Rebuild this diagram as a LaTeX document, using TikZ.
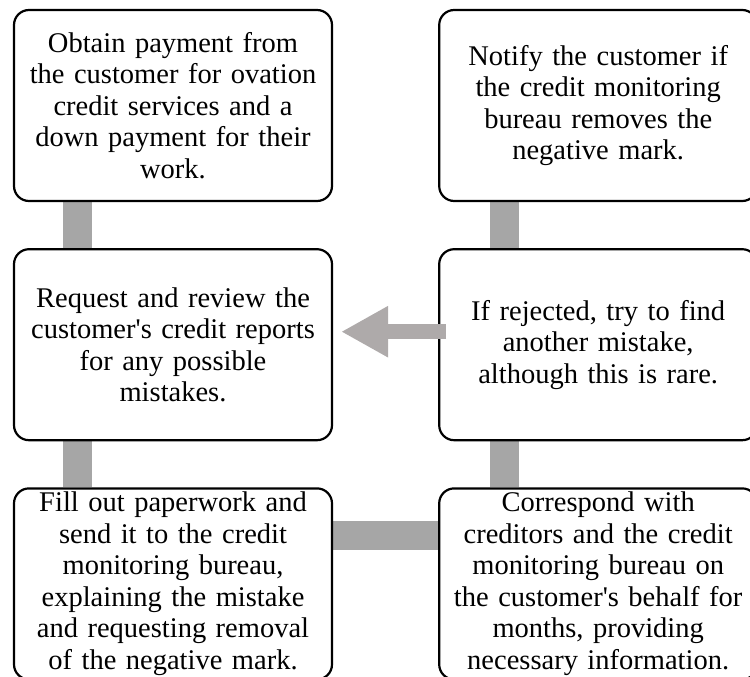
\documentclass[tikz,border=0pt]{standalone}
\usepackage{fontspec}
\setmainfont{Liberation Serif}
\usetikzlibrary{arrows.meta,positioning,backgrounds}

\definecolor{bargray}{RGB}{166,166,166}
\definecolor{arrowgray}{RGB}{174,170,170}

\begin{document}
\begin{tikzpicture}[
  font=\fontsize{28.5}{31.5}\selectfont,
  node distance=46pt and 105pt,
  stepbox/.style={draw, fill=white, line width=2.2pt, rounded corners=15pt, align=center,
    text width=316pt, minimum width=318pt, minimum height=191pt, inner sep=1pt},
  link/.style={draw=bargray, line width=29pt},
  back/.style={draw=arrowgray, line width=15pt, -{Triangle[length=47pt, width=48pt]}}
]
\useasboundingbox (0,0) rectangle (750pt,-677pt);

\node[stepbox] (pay) at (173pt,-105.5pt) {Obtain payment from\\the customer for ovation\\credit services and a\\down payment for their\\work.};
\node[stepbox, below=of pay] (review) {Request and review the\\customer\textquotesingle s credit reports\\for any possible\\mistakes.};
\node[stepbox, below=of review] (paperwork) {Fill out paperwork and\\send it to the credit\\monitoring bureau,\\explaining the mistake\\and requesting removal\\of the negative mark.};
\node[stepbox, right=of paperwork] (correspond) {Correspond with\\creditors and the credit\\monitoring bureau on\\the customer\textquotesingle s behalf for\\months, providing\\necessary information.};
\node[stepbox, above=of correspond] (retry) {If rejected, try to find\\another mistake,\\although this is rare.};
\node[stepbox, above=of retry] (notify) {Notify the customer if\\the credit monitoring\\bureau removes the\\negative mark.};

\begin{scope}[on background layer]
\draw[link] ([xshift=65pt]pay.south west) -- ([xshift=65pt]review.north west);
\draw[link] ([xshift=65pt]review.south west) -- ([xshift=65pt]paperwork.north west);
\draw[link] ([yshift=48pt]paperwork.east) -- ([yshift=48pt]correspond.west);
\draw[link] ([xshift=66pt]correspond.north west) -- ([xshift=66pt]retry.south west);
\draw[link] ([xshift=66pt]retry.north west) -- ([xshift=66pt]notify.south west);
\end{scope}

\draw[back] ([xshift=8pt, yshift=13pt]retry.west) -- ([xshift=8pt, yshift=13pt]review.east);
\end{tikzpicture}
\end{document}
